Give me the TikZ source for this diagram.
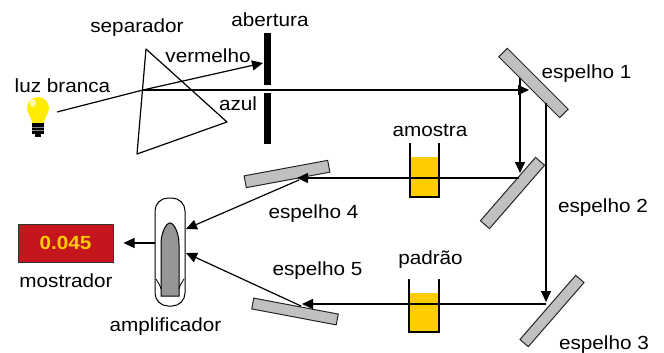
\documentclass[tikz,border=0pt]{standalone}
\usepackage{fontspec}
\setmainfont[FakeStretch=1.09]{Liberation Sans}
\usetikzlibrary{arrows.meta}
\definecolor{mirrorgray}{RGB}{192,192,192}
\definecolor{fluid}{RGB}{255,204,0}
\definecolor{dispred}{RGB}{196,22,28}
\definecolor{bulbyellow}{RGB}{255,236,0}
\definecolor{bulletgray}{RGB}{150,150,150}

\begin{document}
\begin{tikzpicture}[x=1pt,y=1pt,yscale=-1,xscale=1,
  beam/.style={line width=1.2pt},
  ray/.style={line width=1.2pt,-{Triangle[length=11pt,width=10pt]}},
  mirror/.style={draw=black!85,fill=mirrorgray,line width=1pt},
  cuvette/.style={line width=1.2pt},
  lbl/.style={inner sep=0pt,font=\fontsize{19}{22}\selectfont},
  display/.style={draw=black!80,fill=dispred,line width=1pt,minimum width=95pt,minimum height=38pt,text=fluid,font=\fontsize{19}{22}\selectfont\bfseries},
  capsule/.style={draw,fill=white,line width=1pt,minimum width=30pt,minimum height=108pt,rounded corners=13pt}]
\useasboundingbox (0,0) rectangle (664,353);

%Points on the light path
\coordinate (lamp) at (57,112);
\coordinate (pr) at (143,90);
\coordinate (redtip) at (263,63);
\coordinate (m1in) at (529,90);
\coordinate (m1a) at (520,78);
\coordinate (m2in) at (520,173);
\coordinate (m1b) at (546,103);
\coordinate (m3in) at (546,302);
\coordinate (m2out) at (519,178);
\coordinate (m4in) at (297,178);
\coordinate (m3out) at (546,304);
\coordinate (m5in) at (302,304);
\coordinate (m4out) at (299,180);
\coordinate (amp4) at (186,229);
\coordinate (m5out) at (301,306);
\coordinate (amp5) at (186,253);

%Shape: Bulb
\fill[bulbyellow] (38,108) circle (11);
\fill[bulbyellow] (28.5,113) -- (47.5,113) -- (43.5,123) -- (32.5,123) -- cycle;
\fill[white,opacity=0.7] (33,103) ellipse (3 and 4);
\fill[black] (32,123) rectangle (44,134);
\fill[black] (35,134) rectangle (41,137);
\draw[black!45,line width=0.6pt] (32,127) -- (44,127) (32,130.5) -- (44,130.5);

%Shape: Prism
\draw[line width=1.2pt,line join=round] (146,49) -- (227,122) -- (137,154) -- cycle;

%Shape: Aperture
\fill[black] (264,33) rectangle (271,85);
\fill[black] (264,93) rectangle (271,144);

%Shape: Cuvettes
\fill[fluid] (410,157) rectangle (439,197);
\draw[cuvette] (410,143) -- (410,197) -- (439,197) -- (439,143);
\fill[fluid] (409,293) rectangle (439,332);
\draw[cuvette] (409,279) -- (409,332) -- (439,332) -- (439,279);

%Shape: Mirrors
\draw[mirror,shift={(533.5,83)},rotate=45] (-43,-6) rectangle (43,6);
\draw[mirror,shift={(512.5,193)},rotate=-49] (-42,-6) rectangle (42,6);
\draw[mirror,shift={(552,311)},rotate=-49] (-42.5,-5.5) rectangle (42.5,5.5);
\draw[mirror,shift={(287,174)},rotate=-10.5] (-42.5,-6) rectangle (42.5,6);
\draw[mirror,shift={(295,311.5)},rotate=10.7] (-43,-5.5) rectangle (43,5.5);

%Shape: Amplifier
\node[capsule] (amp) at (170,252) {};
\draw[fill=bulletgray,line width=1pt] (161,296) -- (161,244) .. controls (161,233) and (166,223) .. (170,223) .. controls (174,223) and (179,233) .. (179,244) -- (179,296) -- cycle;
\draw[line width=0.8pt] (156,279) .. controls (158,282) and (160,285) .. (161,289);
\draw[line width=0.8pt] (184,279) .. controls (182,282) and (180,285) .. (179,289);

%Shape: Display
\node[display] (disp) at (65.5,243) {0.045};

%Straight Lines: light path
\draw[beam] (lamp) -- (pr);
\draw[ray] (pr) -- (redtip);
\draw[ray] (pr) -- (m1in);
\draw[ray] (m1a) -- (m2in);
\draw[ray] (m1b) -- (m3in);
\draw[ray] (m2out) -- (m4in);
\draw[ray] (m3out) -- (m5in);
\draw[ray] (m4out) -- (amp4);
\draw[ray] (m5out) -- (amp5);
\draw[ray,shorten >=10pt] (amp.west |- disp.east) -- (disp.east);

% Text Node
\node[lbl] (separador) at (137,27.5) {separador};
\node[lbl] (abertura) at (270,20) {abertura};
\node[lbl] (vermelho) at (208,56) {vermelho};
\node[lbl] (luz) at (62.5,85.5) {luz branca};
\node[lbl] (azul) at (238,104) {azul};
\node[lbl] (esp1) at (586.5,73.5) {espelho 1};
\node[lbl] (amostra) at (430,130) {amostra};
\node[lbl] (esp2) at (603,207.5) {espelho 2};
\node[lbl] (esp4) at (313.5,214) {espelho 4};
\node[lbl] (esp5) at (317.5,271) {espelho 5};
\node[lbl] (padrao) at (430.5,259.5) {padrão};
\node[lbl] (esp3) at (604,344.5) {espelho 3};
\node[lbl] (mostrador) at (66,280.5) {mostrador};
\node[lbl] (amplificador) at (165.5,327) {amplificador};

\end{tikzpicture}
\end{document}
